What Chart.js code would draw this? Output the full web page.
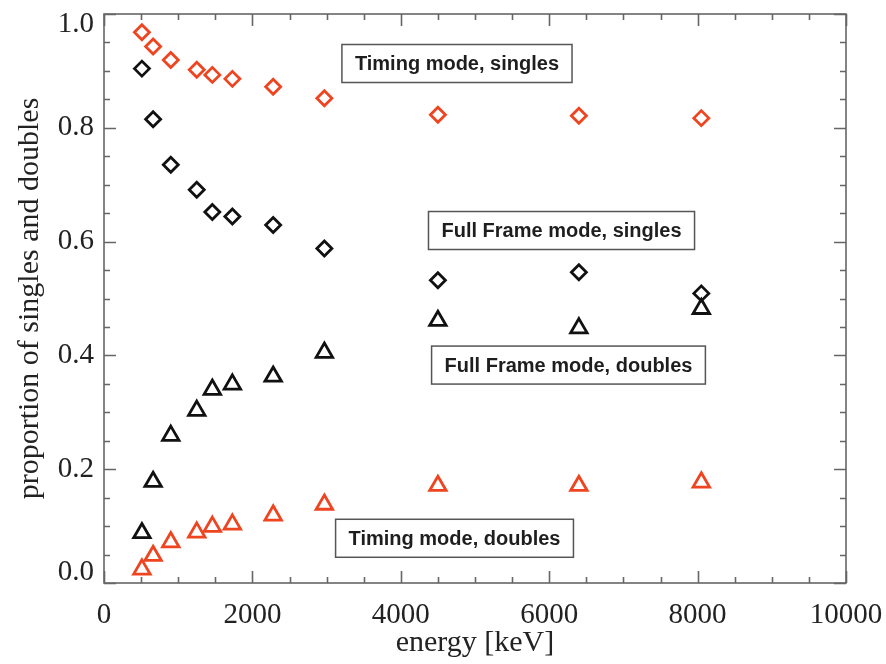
<!DOCTYPE html>
<html>
<head>
<meta charset="utf-8">
<title>proportion of singles and doubles</title>
<script src="https://cdn.jsdelivr.net/npm/chart.js@4.4.1/dist/chart.umd.min.js"></script>
<style>
  html, body { margin: 0; padding: 0; background: #fff; }
  #wrap { width: 886px; height: 664px; }
</style>
</head>
<body>
<div id="wrap"><canvas id="chart" width="886" height="664"></canvas></div>
<script>
// energies of the lines used (keV)
const energies = [511, 662, 900, 1250, 1460, 1730, 2280, 2970, 4500, 6400, 8050];

const timingSingles = [0.968, 0.943, 0.919, 0.902, 0.893, 0.886, 0.872, 0.852, 0.823, 0.821, 0.817];
const fullFrameSingles = [0.904, 0.815, 0.735, 0.691, 0.652, 0.644, 0.629, 0.588, 0.532, 0.546, 0.509];
const fullFrameDoubles = [0.088, 0.178, 0.259, 0.303, 0.340, 0.349, 0.363, 0.405, 0.461, 0.448, 0.482];
const timingDoubles = [0.024, 0.048, 0.072, 0.089, 0.099, 0.103, 0.119, 0.138, 0.171, 0.171, 0.177];

const xTicks = [0, 2000, 4000, 6000, 8000, 10000];
const yTicks = [0.0, 0.2, 0.4, 0.6, 0.8, 1.0];

const noteLabels = [
  "Timing mode, singles",
  "Full Frame mode, singles",
  "Full Frame mode, doubles",
  "Timing mode, doubles",
];
// where each label box is centred, in data units
const noteX = [4757, 6166, 6260, 4724];
const noteY = [0.913, 0.6195, 0.383, 0.0786];

const RED = "#ee4420";
const BLACK = "#111111";
const SERIF = "'Liberation Serif', 'Times New Roman', serif";

function points(values) {
  return values.map(function (v, i) {
    return { x: energies[i], y: v };
  });
}

function serie(label, values, color, style, radius) {
  return {
    label: label,
    data: points(values),
    showLine: false,
    pointStyle: style,
    pointRadius: radius,
    pointHoverRadius: radius,
    pointBorderWidth: 2.8,
    pointHoverBorderWidth: 2.8,
    borderColor: color,
    backgroundColor: "rgba(0,0,0,0)",
  };
}

// frame, inward ticks on all four sides and the label boxes
const frameAndNotes = {
  id: "frameAndNotes",
  afterDatasetsDraw(chart) {
    const ctx = chart.ctx;
    const a = chart.chartArea;
    const xs = chart.scales.x;
    const ys = chart.scales.y;

    ctx.save();
    ctx.strokeStyle = "#666";
    ctx.lineWidth = 1.6;
    ctx.strokeRect(a.left, a.top, a.right - a.left, a.bottom - a.top);

    ctx.beginPath();
    for (let v = xs.min; v <= xs.max; v += 500) {
      const px = Math.round(xs.getPixelForValue(v)) + 0.5;
      const len = v % 2000 === 0 ? 12 : 6;
      ctx.moveTo(px, a.bottom);
      ctx.lineTo(px, a.bottom - len);
      ctx.moveTo(px, a.top);
      ctx.lineTo(px, a.top + len);
    }
    for (let i = 0; i <= 20; i++) {
      const py = Math.round(ys.getPixelForValue(i * 0.05)) + 0.5;
      const len = i % 4 === 0 ? 12 : 6;
      ctx.moveTo(a.left, py);
      ctx.lineTo(a.left + len, py);
      ctx.moveTo(a.right, py);
      ctx.lineTo(a.right - len, py);
    }
    ctx.stroke();

    ctx.font = "bold 20px 'Liberation Sans', Arial, sans-serif";
    ctx.textAlign = "center";
    ctx.textBaseline = "middle";
    for (let i = 0; i < noteLabels.length; i++) {
      const cx = xs.getPixelForValue(noteX[i]);
      const cy = ys.getPixelForValue(noteY[i]);
      const w = ctx.measureText(noteLabels[i]).width + 26;
      const h = 38;
      ctx.fillStyle = "#fff";
      ctx.fillRect(cx - w / 2, cy - h / 2, w, h);
      ctx.strokeStyle = "#555";
      ctx.lineWidth = 1.5;
      ctx.strokeRect(cx - w / 2, cy - h / 2, w, h);
      ctx.fillStyle = "#1e1e1e";
      ctx.fillText(noteLabels[i], cx, cy + 1);
    }
    ctx.restore();
  },
};

const ctx = document.getElementById("chart").getContext("2d");

new Chart(ctx, {
  type: "scatter",
  data: {
    datasets: [
      serie("Timing mode, singles", timingSingles, RED, "rectRot", 7.5),
      serie("Full Frame mode, singles", fullFrameSingles, BLACK, "rectRot", 7.5),
      serie("Full Frame mode, doubles", fullFrameDoubles, BLACK, "triangle", 9.5),
      serie("Timing mode, doubles", timingDoubles, RED, "triangle", 9.5),
    ],
  },
  options: {
    responsive: false,
    animation: false,
    layout: { autoPadding: false, padding: { left: 0, top: 14, right: 40, bottom: 0 } },
    plugins: {
      legend: { display: false },
      tooltip: { enabled: false },
    },
    scales: {
      x: {
        type: "linear",
        min: 0,
        max: 10000,
        afterBuildTicks: function (scale) {
          scale.ticks = xTicks.map(function (v) { return { value: v }; });
        },
        afterFit: function (scale) {
          scale.height = 81;
          scale.paddingLeft = 0;
          scale.paddingRight = 0;
        },
        grid: { display: false, drawTicks: false },
        border: { display: false },
        ticks: {
          color: "#222",
          padding: 18,
          maxRotation: 0,
          font: { family: SERIF, size: 29, lineHeight: 1 },
          callback: function (v) { return String(v); },
        },
        title: {
          display: true,
          text: "energy [keV]",
          color: "#222",
          padding: { top: 0, bottom: 3 },
          font: { family: SERIF, size: 30 },
        },
      },
      y: {
        type: "linear",
        min: 0,
        max: 1,
        afterBuildTicks: function (scale) {
          scale.ticks = yTicks.map(function (v) { return { value: v }; });
        },
        afterFit: function (scale) {
          scale.width = 104;
          scale.paddingTop = 0;
          scale.paddingBottom = 0;
        },
        grid: { display: false, drawTicks: false },
        border: { display: false },
        ticks: {
          color: "#222",
          padding: 10,
          font: { family: SERIF, size: 29, lineHeight: 0.75 },
          // the end labels sit just inside the frame, as in the original
          callback: function (v) {
            if (v === 1) return ["", "1.0"];
            if (v === 0) return ["0.0", ""];
            return v.toFixed(1);
          },
        },
        title: {
          display: true,
          text: "proportion of singles and doubles",
          color: "#222",
          padding: { top: 12, bottom: 0 },
          font: { family: SERIF, size: 30 },
        },
      },
    },
  },
  plugins: [frameAndNotes],
});
</script>
</body>
</html>
